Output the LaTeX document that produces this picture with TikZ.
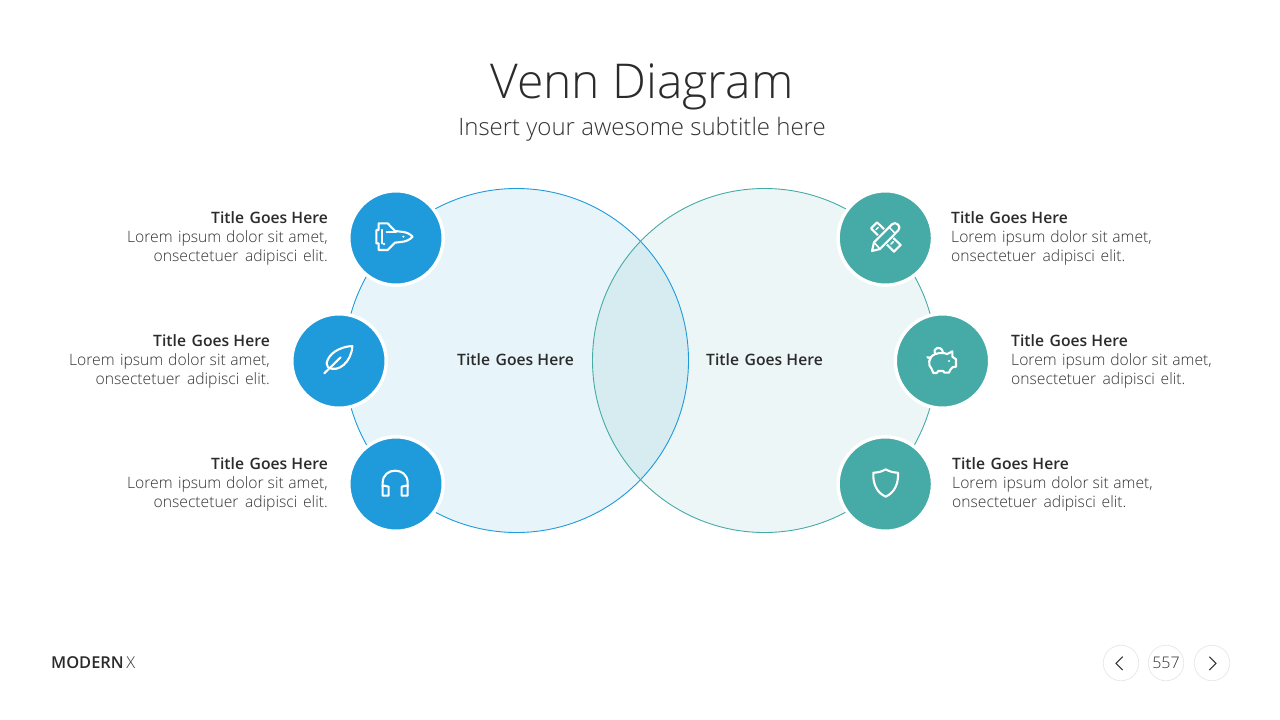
\documentclass[tikz,border=0pt]{standalone}
\usepackage{fontspec}
\setmainfont{Open Sans}
\newfontfamily\oslight{Open Sans Light}
\newfontfamily\ossemi{Open Sans Semibold}
\definecolor{bluec}{HTML}{1F9ADB}
\definecolor{tealc}{HTML}{46AAA6}
\definecolor{inkc}{HTML}{2B2B2B}
\definecolor{bodyc}{HTML}{333333}
\definecolor{lfill}{HTML}{E7F5FB}
\definecolor{rfill}{HTML}{EDF6F7}
\definecolor{mfill}{HTML}{D6ECF1}
\definecolor{navc}{HTML}{E9E9E9}
\newcommand{\hd}[1]{{\ossemi\fontsize{15.7}{19}\selectfont #1}}
\newcommand{\ttl}{Title\hspace{0.1em} Goes Here}
\newcommand{\loremA}{Lorem\hspace{0.08em} ipsum\hspace{0.05em} dolor sit\hspace{0.03em} amet,}
\newcommand{\loremB}{onsectetuer\hspace{0.15em} adipisci\hspace{0.1em} elit.}
\tikzset{
  x=1pt,y=-1pt,
  badge/.style={circle,minimum size=94.4pt,inner sep=0pt,draw=white,line width=3.4pt,outer sep=0pt},
  blurb/.style={inner sep=0pt,font=\oslight\fontsize{15.7}{19}\selectfont,text=bodyc},
  icon/.style={draw=white,line width=2.1pt,line join=round,line cap=round},
  navring/.style={circle,minimum size=35.5pt,inner sep=0pt,draw=navc,line width=0.8pt},
  chev/.style={draw=bodyc,line width=1pt},
}
\begin{document}
\begin{tikzpicture}
\useasboundingbox (0,0) rectangle (1280,720);
% Venn
\fill[lfill] (516.5,360.5) circle[radius=172];
\fill[rfill] (764.5,360.5) circle[radius=172];
\begin{scope}
\clip (516.5,360.5) circle[radius=172];
\fill[mfill] (764.5,360.5) circle[radius=172];
\end{scope}
\draw[bluec,line width=0.9pt] (516.5,360.5) circle[radius=172];
\draw[tealc,line width=0.9pt] (764.5,360.5) circle[radius=172];
% badges
\node[badge,fill=bluec] (b1) at (396,238) {};
\node[badge,fill=bluec] (b2) at (339,361) {};
\node[badge,fill=bluec] (b3) at (396,484) {};
\node[badge,fill=tealc] (t1) at (885.3,238) {};
\node[badge,fill=tealc] (t2) at (942.5,361) {};
\node[badge,fill=tealc] (t3) at (885.3,484) {};
% shuttle
\begin{scope}[shift={(340,180)},scale=1/3]
\draw[icon] (218,170) .. controls (208,160) and (198,156) .. (182,155) -- (165,153) -- (143,130) -- (116,130) -- (116,150) -- (109,150) -- (109,190) -- (116,190) -- (116,210) -- (143,210) -- (165,188) -- (182,186) .. controls (198,185) and (208,180) .. cycle;
\draw[icon] (140,157) -- (168,157) (125,150) -- (125,190);
\fill[white] (190,170) circle[radius=3.5] (132,192) circle[radius=4];
\end{scope}
% feather
\begin{scope}[shift={(285,305)},scale=1/3]
\draw[icon] (202,123) .. controls (165,125) and (130,145) .. (125,175) -- (129,187) .. controls (160,205) and (200,170) .. cycle;
\draw[icon] (118,205) -- (167,157);
\end{scope}
% headphones
\begin{scope}[shift={(340,430)},scale=1/3]
\draw[icon] (128,170) -- (128,158) .. controls (128,110) and (203,110) .. (203,158) -- (203,170);
\draw[icon] (128,166) -- (146,170) -- (146,197) -- (128,197) -- cycle;
\draw[icon] (203,166) -- (185,170) -- (185,197) -- (203,197) -- cycle;
\end{scope}
% ruler and pencil
\begin{scope}[shift={(830,185)},scale=1/3]
\draw[icon] (123,130) -- (141,112) -- (212,180) -- (192,200) -- cycle;
\draw[icon,line width=1.5pt] (145,127) -- (138,134) (190,170) -- (183,177);
\draw[tealc,fill=tealc,line width=3pt] (128,173) -- (188,114) -- (207,134) -- (150,193) -- cycle;
\draw[icon] (126,198) -- (132,172) -- (187,117) .. controls (197,108) and (216,124) .. (205,136) -- (150,192) -- cycle;
\draw[icon,line width=1.5pt] (132,172) -- (150,192) (178,127) -- (196,146);
\end{scope}
% piggy
\begin{scope}[shift={(890,305)},scale=1/3]
\draw[icon] (136,147) .. controls (150,143) and (160,143) .. (172,147) -- (187,139) -- (187,155) -- (198,163) -- (198,185) -- (187,187) -- (180,196) -- (177,203) -- (163,203) -- (160,198) -- (145,198) -- (140,204) -- (130,204) -- (125,192) .. controls (112,180) and (115,155) .. cycle;
\draw[icon] (136,147) .. controls (125,128) and (155,118) .. (159,143);
\draw[icon] (120,157) .. controls (115,160) and (112,158) .. (112,156);
\fill[white] (177,168) circle[radius=3.5];
\end{scope}
% shield
\begin{scope}[shift={(830,430)},scale=1/3]
\draw[icon] (167,118) .. controls (155,125) and (143,128) .. (130,128) .. controls (128,160) and (140,188) .. (167,200) .. controls (194,188) and (206,160) .. (204,128) .. controls (191,128) and (179,125) .. cycle;
\end{scope}
% texts
\node[font=\oslight\fontsize{48}{56}\selectfont,text=inkc] (title) at (642,87) {Venn Diagram};
\node[font=\oslight\fontsize{24}{28}\selectfont,text=bodyc] (sub) at (642,129) {Insert your awesome subtitle here};
\node[font=\ossemi\fontsize{15.7}{19}\selectfont,text=inkc,inner sep=0pt] (cl) at (515.5,359.5) {\ttl};
\node[font=\ossemi\fontsize{15.7}{19}\selectfont,text=inkc,inner sep=0pt] (cr) at (764.5,359.5) {\ttl};
\node[blurb,align=right,anchor=east] (l1) at (328,238) {{\color{inkc}\hd{\ttl}}\\\loremA\\\loremB};
\node[blurb,align=right,anchor=east] (l2) at (270,361) {{\color{inkc}\hd{\ttl}}\\\loremA\\\loremB};
\node[blurb,align=right,anchor=east] (l3) at (328,484) {{\color{inkc}\hd{\ttl}}\\\loremA\\\loremB};
\node[blurb,align=left,anchor=west] (r1) at (951,238) {{\color{inkc}\hd{\ttl}}\\\loremA\\\loremB};
\node[blurb,align=left,anchor=west] (r2) at (1011,361) {{\color{inkc}\hd{\ttl}}\\\loremA\\\loremB};
\node[blurb,align=left,anchor=west] (r3) at (952,484) {{\color{inkc}\hd{\ttl}}\\\loremA\\\loremB};
% footer
\node[anchor=west,inner sep=0pt,text=inkc] (brand) at (51,662.5) {{\ossemi\fontsize{16.4}{19}\selectfont MODERN}\hspace{2.5pt}{\oslight\fontsize{16.4}{19}\selectfont\color{bodyc}X}};
\node[navring] (prev) at (1121,663) {};
\node[navring,font=\oslight\fontsize{16}{19}\selectfont,text=bodyc] (page) at (1166,663) {557};
\node[navring] (next) at (1212,663) {};
\begin{scope}[shift={(1090,635)},scale=1/3]
\draw[chev] (98,65) -- (78,85) -- (98,105);
\draw[chev] (358,65) -- (378,85) -- (358,105);
\end{scope}
\end{tikzpicture}
\end{document}
